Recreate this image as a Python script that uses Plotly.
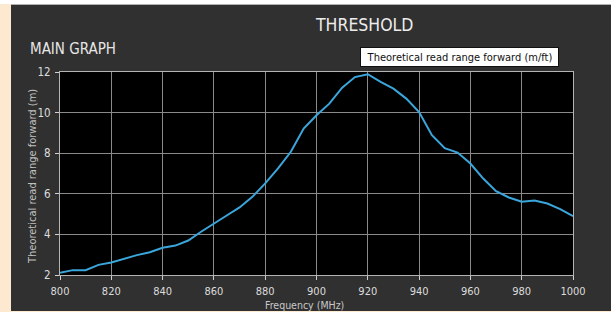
import plotly.graph_objects as go

freq_mhz = [800, 805, 810, 815, 820, 825, 830, 835, 840, 845, 850, 855, 860, 865, 870,
            875, 880, 885, 890, 895, 900, 905, 910, 915, 920, 925, 930, 935, 940, 945,
            950, 955, 960, 965, 970, 975, 980, 985, 990, 995, 1000]
read_range_m = [2.11, 2.24, 2.24, 2.50, 2.62, 2.80, 2.98, 3.12, 3.34, 3.45, 3.70, 4.13, 4.55, 4.93, 5.33,
                5.85, 6.51, 7.25, 8.07, 9.21, 9.87, 10.44, 11.23, 11.75, 11.89, 11.51, 11.18, 10.69, 10.03, 8.89,
                8.25, 8.03, 7.49, 6.75, 6.13, 5.82, 5.61, 5.67, 5.52, 5.25, 4.90]
x_ticks = [800, 820, 840, 860, 880, 900, 920, 940, 960, 980, 1000]
y_ticks = [2, 4, 6, 8, 10, 12]

W, H = 611, 312
L, R, T, B = 60, 38, 72, 37
pw, ph = W - L - R, H - T - B

def px(xpix):
    return (xpix - L) / pw

def py(ypix):
    return 1 - (ypix - T) / ph

font = "DejaVu Sans Condensed, sans-serif"
cream = "#fde9cf"

fig = go.Figure()
fig.add_trace(go.Scatter(
    x=freq_mhz, y=read_range_m, mode="lines",
    line=dict(color="#3ba6dc", width=2),
    name="Theoretical read range forward (m/ft)",
    showlegend=False, hoverinfo="skip",
))

shapes = [
    dict(type="rect", xref="paper", yref="paper", x0=px(0), x1=px(11), y0=py(312), y1=py(0),
         fillcolor=cream, line=dict(width=0), layer="below"),
    dict(type="rect", xref="paper", yref="paper", x0=px(0), x1=px(611), y0=py(312), y1=py(311),
         fillcolor=cream, line=dict(width=0), layer="below"),
    dict(type="rect", xref="paper", yref="paper", x0=px(0), x1=px(611), y0=py(4), y1=py(0),
         fillcolor="#ffffff", line=dict(width=0), layer="below"),
    dict(type="line", xref="paper", yref="paper", x0=px(11), x1=px(611), y0=py(4.5), y1=py(4.5),
         line=dict(color="#b0b0b0", width=1), layer="below"),
]

annotations = [
    dict(text="THRESHOLD", xref="paper", yref="paper", x=px(364), y=py(25),
         showarrow=False, xanchor="center", yanchor="middle",
         font=dict(family=font, size=17.5, color="#ececec")),
    dict(text="MAIN GRAPH", xref="paper", yref="paper", x=px(28), y=py(49),
         showarrow=False, xanchor="left", yanchor="middle",
         font=dict(family=font, size=15, color="#e6e6e6")),
    dict(text="Theoretical read range forward (m/ft)", xref="paper", yref="paper",
         x=px(459.5), y=py(57), showarrow=False, xanchor="center", yanchor="middle",
         font=dict(family=font, size=11, color="#111111"),
         bgcolor="#ffffff", bordercolor="#111111", borderwidth=1, borderpad=1,
         width=195, height=16),
    dict(text="Theoretical read range forward (m)", xref="paper", yref="paper",
         x=px(32), y=py(177), showarrow=False, xanchor="center", yanchor="middle",
         textangle=-90, font=dict(family=font, size=11, color="#c0c0c0")),
    dict(text="Frequency (MHz)", xref="paper", yref="paper",
         x=px(304), y=py(304.5), showarrow=False, xanchor="center", yanchor="middle",
         font=dict(family=font, size=10.5, color="#c8c8c8")),
]

fig.update_layout(
    width=W, height=H,
    margin=dict(l=L, r=R, t=T, b=B, pad=0),
    paper_bgcolor="#303030",
    plot_bgcolor="#000000",
    shapes=shapes,
    annotations=annotations,
    font=dict(family=font, color="#d8d8d8"),
    xaxis=dict(
        range=[800, 1000], tickvals=x_ticks, ticktext=[str(v) for v in x_ticks],
        showgrid=True, gridcolor="#8a8a8a", gridwidth=1, zeroline=False,
        showline=True, linecolor="#b4b4b4", linewidth=1, mirror=True,
        ticks="outside", ticklen=4, tickcolor="#d0d0d0", ticklabelstandoff=2,
        tickfont=dict(family=font, size=11, color="#dcdcdc"),
        fixedrange=True,
    ),
    yaxis=dict(
        range=[2, 12], tickvals=y_ticks, ticktext=[str(v) for v in y_ticks],
        showgrid=True, gridcolor="#8a8a8a", gridwidth=1, zeroline=False,
        showline=True, linecolor="#b4b4b4", linewidth=1, mirror=True,
        ticks="outside", ticklen=4, tickcolor="#d0d0d0", ticklabelstandoff=2,
        tickfont=dict(family=font, size=11.5, color="#dcdcdc"),
        fixedrange=True,
    ),
)

fig.write_html("out.html", config={"displayModeBar": False},
               post_script="document.body.style.margin='0';")
